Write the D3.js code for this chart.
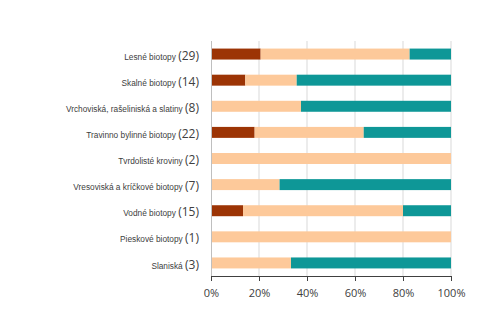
<!DOCTYPE html>
<html>
<head>
<meta charset="utf-8">
<script src="https://cdn.jsdelivr.net/npm/d3@7/dist/d3.min.js"></script>
<style>
  body { margin: 0; background: #fff; }
  svg { display: block; }
</style>
</head>
<body>
<svg id="chart"></svg>
<script>
// habitat categories with total counts
const categories = ["Lesné biotopy", "Skalné biotopy", "Vrchoviská, rašeliniská a slatiny",
  "Travinno bylinné biotopy", "Tvrdolisté kroviny", "Vresoviská a kríčkové biotopy",
  "Vodné biotopy", "Pieskové biotopy", "Slaniská"];
const totals = [29, 14, 8, 22, 2, 7, 15, 1, 3];

// series counts (stacked to 100%)
const seriesDark  = [6, 2, 0, 4, 0, 0, 2, 0, 0];
const seriesLight = [18, 3, 3, 10, 2, 2, 10, 1, 1];
const seriesTeal  = [5, 9, 5, 8, 0, 5, 3, 0, 2];

const tickValues = [0, 0.2, 0.4, 0.6, 0.8, 1];
const colors = ["#9c3405", "#fdc99a", "#0e9797"];

const width = 492, height = 332;
const margin = { top: 41, right: 41, bottom: 56, left: 211 };
const innerW = width - margin.left - margin.right;
const innerH = height - margin.top - margin.bottom;

const svg = d3.select("#chart").attr("width", width).attr("height", height);
const chart = svg.append("g").attr("transform", `translate(${margin.left},${margin.top})`);

const rows = categories.map((c, i) => ({
  name: c, total: totals[i],
  dark: seriesDark[i] / totals[i],
  light: seriesLight[i] / totals[i],
  teal: seriesTeal[i] / totals[i]
}));

const x = d3.scaleLinear().domain([0, 1]).range([0, innerW]);
const y = d3.scaleBand().domain(categories).range([0, innerH]).paddingInner(0.58).paddingOuter(0.29);

// vertical gridlines
chart.append("g")
  .selectAll("line")
  .data(tickValues.slice(1))
  .join("line")
    .attr("x1", d => x(d)).attr("x2", d => x(d))
    .attr("y1", 0).attr("y2", innerH)
    .attr("stroke", "#d9d9d9").attr("stroke-width", 1);

// stacked bars
const stack = d3.stack().keys(["dark", "light", "teal"]);
const layers = stack(rows);

chart.append("g")
  .selectAll("g")
  .data(layers)
  .join("g")
    .attr("fill", (d, i) => colors[i])
  .selectAll("rect")
  .data(d => d)
  .join("rect")
    .attr("x", d => x(d[0]))
    .attr("y", d => y(d.data.name))
    .attr("width", d => x(d[1]) - x(d[0]))
    .attr("height", y.bandwidth());

// left axis line
chart.append("line")
  .attr("x1", 0.5).attr("x2", 0.5)
  .attr("y1", 0).attr("y2", innerH)
  .attr("stroke", "#bfbfbf");

// bottom axis
const xAxis = d3.axisBottom(x).tickValues(tickValues).tickFormat(d3.format(".0%")).tickSize(5).tickPadding(8);
const xAxisG = chart.append("g")
  .attr("transform", `translate(0,${innerH})`)
  .call(xAxis);
xAxisG.select(".domain").attr("stroke", "#404040");
xAxisG.selectAll(".tick line").attr("stroke", "#404040");
xAxisG.selectAll("text")
  .attr("fill", "#404040")
  .style("font-family", "'Open Sans', sans-serif")
  .style("font-size", "11px");

// category labels with counts
const labels = chart.append("g")
  .selectAll("text")
  .data(rows)
  .join("text")
    .attr("x", -12)
    .attr("y", d => y(d.name) + y.bandwidth() / 2)
    .attr("dy", "0.35em")
    .attr("text-anchor", "end")
    .attr("fill", "#404040");

labels.append("tspan")
  .style("font-family", "'Liberation Sans', Arial, sans-serif")
  .style("font-size", "8.3px")
  .text(d => d.name + " ");
labels.append("tspan")
  .style("font-family", "'Open Sans', sans-serif")
  .style("font-size", "12px")
  .text(d => `(${d.total})`);
</script>
</body>
</html>
